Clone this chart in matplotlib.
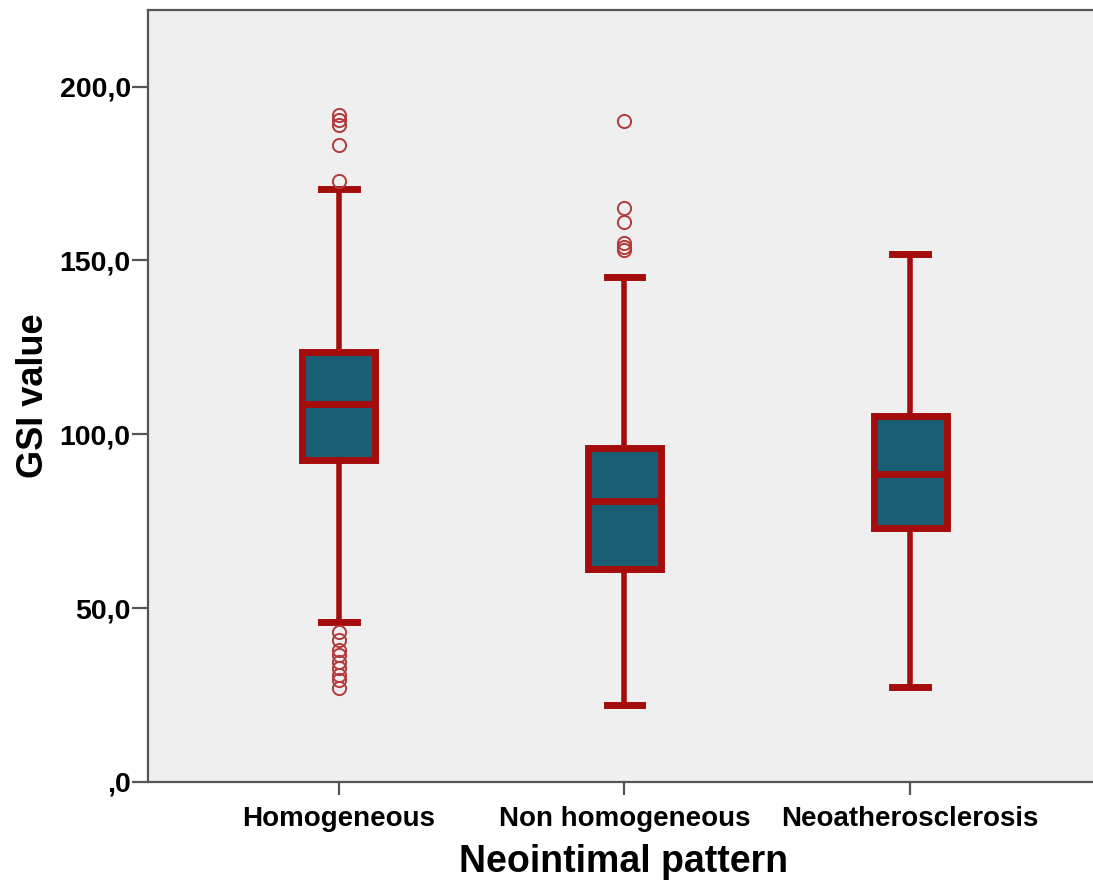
import matplotlib
matplotlib.use("Agg")
import matplotlib.pyplot as plt
from matplotlib.ticker import FuncFormatter

# summary values
categories = ["Homogeneous", "Non homogeneous", "Neoatherosclerosis"]
whis_low = [46.0, 22.2, 27.3]
q1 = [92.7, 61.3, 73.1]
medians = [108.8, 80.9, 88.6]
q3 = [123.7, 96.1, 105.3]
whis_high = [170.4, 145.3, 151.7]
outliers_homog = [191.9, 190.5, 189.0, 183.3, 172.7,
                  43.2, 40.9, 38.0, 36.5, 34.5, 32.8, 30.8, 29.4, 27.0]
outliers_nonhomog = [190.0, 165.2, 161.0, 155.0, 153.8, 153.0]
outliers_neo = []

box_red = "#A50C0C"
box_fill = "#1A5F74"
flier_red = "#B23A3A"

stats = []
fliers = [outliers_homog, outliers_nonhomog, outliers_neo]
for i, name in enumerate(categories):
    stats.append({"label": name, "whislo": whis_low[i], "q1": q1[i],
                  "med": medians[i], "q3": q3[i], "whishi": whis_high[i],
                  "fliers": fliers[i]})

dpi = 100
fig = plt.figure(figsize=(1093 / dpi, 884 / dpi), dpi=dpi)
ax = fig.add_axes([148 / 1093, 102 / 884, 0.87, 772 / 884])
ax.set_facecolor("#EFEFEF")

ax.bxp(stats, positions=[1, 2, 3], widths=0.255, patch_artist=True,
       boxprops=dict(facecolor=box_fill, edgecolor=box_red, linewidth=5),
       medianprops=dict(color=box_red, linewidth=5),
       whiskerprops=dict(color=box_red, linewidth=4),
       capprops=dict(color=box_red, linewidth=5),
       capwidths=0.125,
       flierprops=dict(marker="o", markerfacecolor="none",
                       markeredgecolor=flier_red, markersize=9.5,
                       markeredgewidth=1.4))

ax.set_xlim(0.333, 3.66)
ax.set_ylim(0, 222)
ax.set_yticks([0, 50, 100, 150, 200])
ax.yaxis.set_major_formatter(FuncFormatter(
    lambda v, p: ",0" if v == 0 else f"{v:.1f}".replace(".", ",")))

for s in ["left", "bottom", "top"]:
    ax.spines[s].set_color("#555555")
    ax.spines[s].set_linewidth(1.6)
ax.spines["right"].set_visible(False)

ax.tick_params(axis="y", length=11.5, width=1.6, color="#555555",
               labelsize=20.5, pad=1)
ax.tick_params(axis="x", length=9, width=1.6, color="#555555",
               labelsize=20, pad=8)
for lab in ax.get_xticklabels() + ax.get_yticklabels():
    lab.set_fontweight("bold")
    lab.set_family("Liberation Sans")

ax.set_xlabel("Neointimal pattern", fontsize=27, fontweight="bold",
              family="Liberation Sans", labelpad=9)
ax.set_ylabel("GSI value", fontsize=26, fontweight="bold",
              family="Liberation Sans", labelpad=6)

fig.savefig("out.png", dpi=dpi)
